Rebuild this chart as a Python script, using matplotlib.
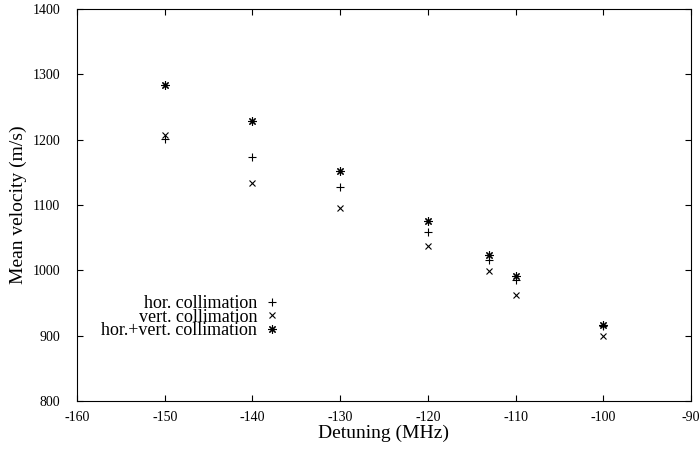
import matplotlib
matplotlib.use("Agg")
import matplotlib.pyplot as plt

# detuning (MHz) and mean velocities (m/s)
detuning = [-150, -140, -130, -120, -113, -110, -100]
hor = [1201, 1173, 1127, 1059, 1016, 985, 915]
vert = [1207, 1133, 1096, 1037, 999, 963, 900]
hor_vert = [1284, 1228, 1152, 1075, 1024, 991, 916]

xticks = [-160, -150, -140, -130, -120, -110, -100, -90]
yticks = [800, 900, 1000, 1100, 1200, 1300, 1400]

plt.rcParams['font.family'] = ['Liberation Serif', 'DejaVu Serif']
plt.rcParams['axes.unicode_minus'] = False

fig = plt.figure(figsize=(6.99, 4.49), dpi=100)
ax = fig.add_axes([77 / 699, 1 - 401 / 449, 614 / 699, 392 / 449])

ax.plot(detuning, hor, linestyle='none', marker='+', ms=6, mew=0.8,
        color='black', label='hor. collimation')
ax.plot(detuning, vert, linestyle='none', marker='x', ms=5, mew=0.8,
        color='black', label='vert. collimation')
ax.plot(detuning, hor_vert, linestyle='none', marker=(8, 2, 0), ms=6, mew=0.8,
        color='black', label='hor.+vert. collimation')

ax.set_xlim(-160, -90)
ax.set_ylim(800, 1400)
ax.set_xticks(xticks)
ax.set_yticks(yticks)
ax.tick_params(direction='in', length=4.5, width=0.8, top=True, right=True,
               labelsize=10)
ax.tick_params(axis='y', pad=12)
ax.tick_params(axis='x', pad=7)
for s in ax.spines.values():
    s.set_linewidth(0.8)

ax.set_xlabel('Detuning (MHz)', fontsize=14, labelpad=1)
ax.set_ylabel('Mean velocity (m/s)', fontsize=14, labelpad=4)

leg = ax.legend(loc='center right', bbox_to_anchor=(277 / 699, 1 - 317 / 449),
                bbox_transform=fig.transFigure, markerfirst=False, frameon=False,
                fontsize=13, labelspacing=-0.2, handlelength=0.6,
                handletextpad=0.5, borderpad=0, borderaxespad=0)

fig.savefig('out.png', dpi=100)
